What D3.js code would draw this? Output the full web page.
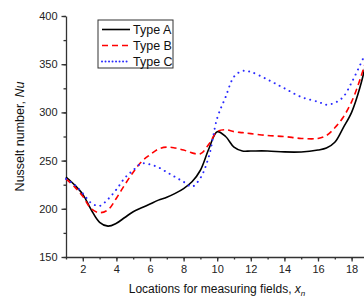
<!DOCTYPE html>
<html>
<head>
<meta charset="utf-8">
<script src="https://cdn.jsdelivr.net/npm/d3@7"></script>
<style>
  body { margin: 0; background: #fff; }
  text { font-family: "Liberation Sans", Arial, sans-serif; }
</style>
</head>
<body>
<div id="chart"></div>
<script>
// values
var xs    = [1, 1.5, 2, 2.5, 3, 3.5, 4, 4.5, 5, 5.5, 6, 6.5, 7, 7.5, 8, 8.5, 9, 9.5, 10, 10.5, 11, 11.5, 12, 13, 14, 15, 16, 16.5, 17, 17.5, 18, 18.5, 19];
var typeA = [233, 225, 215, 199, 186, 182, 185, 191, 197, 201, 205, 209, 212, 216, 221, 228, 240, 262, 280, 275, 264, 260, 260, 260, 259, 259, 261, 263, 269, 284, 300, 326, 362];
var typeB = [231, 223, 213, 200, 196, 199, 211, 225, 238, 249, 256, 262, 264, 263, 261, 258, 257, 267, 280, 282, 280, 279, 278, 276, 275, 273, 273, 276, 284, 295, 311, 334, 362];
var typeC = [231, 225, 216, 206, 203, 210, 220, 232, 240, 247, 246, 243, 238, 233, 228, 223, 232, 254, 294, 316, 337, 343, 342, 334, 325, 316, 311, 308, 310, 316, 331, 349, 368];
var seriesNames = ["Type A", "Type B", "Type C"];
var xTicks = [2, 4, 6, 8, 10, 12, 14, 16, 18];
var yTicks = [150, 200, 250, 300, 350, 400];

var svgWidth = 364;
var svgHeight = 299;
var margin = { top: 16, left: 66, bottom: 42 };
var height = svgHeight - margin.top - margin.bottom;

var svg = d3.select("#chart")
    .append("svg")
    .attr("width", svgWidth)
    .attr("height", svgHeight);

var chartGroup = svg.append("g")
    .attr("transform", `translate(${margin.left}, ${margin.top})`);

var xScale = d3.scaleLinear().domain([1, 19]).range([0, 302.4]);
var yScale = d3.scaleLinear().domain([150, 400]).range([height, 0]);

// minor ticks first
chartGroup.append("g")
    .attr("transform", `translate(0, ${height})`)
    .call(d3.axisBottom(xScale).tickValues(d3.range(1, 20)).tickSize(2.5).tickFormat(""))
    .call(g => g.select(".domain").remove());
chartGroup.append("g")
    .call(d3.axisLeft(yScale).tickValues(d3.range(150, 401, 25)).tickSize(2.5).tickFormat(""))
    .call(g => g.select(".domain").remove());

var xAxis = chartGroup.append("g")
    .attr("transform", `translate(0, ${height})`)
    .call(d3.axisBottom(xScale).tickValues(xTicks).tickSize(4.5).tickSizeOuter(0).tickPadding(4));
var yAxis = chartGroup.append("g")
    .call(d3.axisLeft(yScale).tickValues(yTicks).tickSize(4.5).tickSizeOuter(0).tickPadding(4));

svg.selectAll(".tick text")
    .style("font-size", "11px")
    .attr("fill", "#222");
svg.selectAll(".domain, .tick line")
    .attr("stroke", "#333")
    .attr("stroke-width", 1.3);

// lines
var styles = [
    { color: "#000000", dash: null, width: 1.6, cap: "butt" },
    { color: "#ff0000", dash: "6,4", width: 1.6, cap: "butt" },
    { color: "#2a2aff", dash: "0.01,5.6", width: 2, cap: "round" }
];
var allSeries = [typeA, typeB, typeC];

var line = d3.line()
    .x((d, i) => xScale(xs[i]))
    .y(d => yScale(d))
    .curve(d3.curveCatmullRom.alpha(0.5));

allSeries.forEach(function(values, i) {
    chartGroup.append("path")
        .datum(values)
        .attr("fill", "none")
        .attr("stroke", styles[i].color)
        .attr("stroke-width", styles[i].width)
        .attr("stroke-dasharray", styles[i].dash)
        .attr("stroke-linecap", styles[i].cap)
        .attr("d", line);
});

// legend
var legend = svg.append("g").attr("transform", "translate(98, 20)");
legend.append("rect")
    .attr("width", 75)
    .attr("height", 48)
    .attr("fill", "#fff")
    .attr("stroke", "#333")
    .attr("stroke-width", 1);
seriesNames.forEach(function(name, i) {
    var y = 9.5 + i * 16;
    legend.append("line")
        .attr("x1", 4).attr("x2", 32)
        .attr("y1", y).attr("y2", y)
        .attr("stroke", styles[i].color)
        .attr("stroke-width", styles[i].width)
        .attr("stroke-dasharray", i === 2 ? "0.01,3.5" : styles[i].dash)
        .attr("stroke-linecap", styles[i].cap);
    legend.append("text")
        .attr("x", 35)
        .attr("y", y + 4.5)
        .style("font-size", "12.5px")
        .attr("fill", "#111")
        .text(name);
});

// axis titles
var yTitle = svg.append("text")
    .attr("transform", `translate(24, ${margin.top + height / 2}) rotate(-90)`)
    .attr("text-anchor", "middle")
    .style("font-size", "12.5px")
    .attr("fill", "#111");
yTitle.append("tspan").text("Nusselt number, ");
yTitle.append("tspan").style("font-style", "italic").text("Nu");

var xTitle = svg.append("text")
    .attr("x", 217)
    .attr("y", 293)
    .attr("text-anchor", "middle")
    .style("font-size", "12px")
    .attr("fill", "#111");
xTitle.append("tspan").text("Locations for measuring fields, ");
xTitle.append("tspan").style("font-style", "italic").text("x");
xTitle.append("tspan").style("font-style", "italic").style("font-size", "8px").attr("dy", 3).text("n");
</script>
</body>
</html>
